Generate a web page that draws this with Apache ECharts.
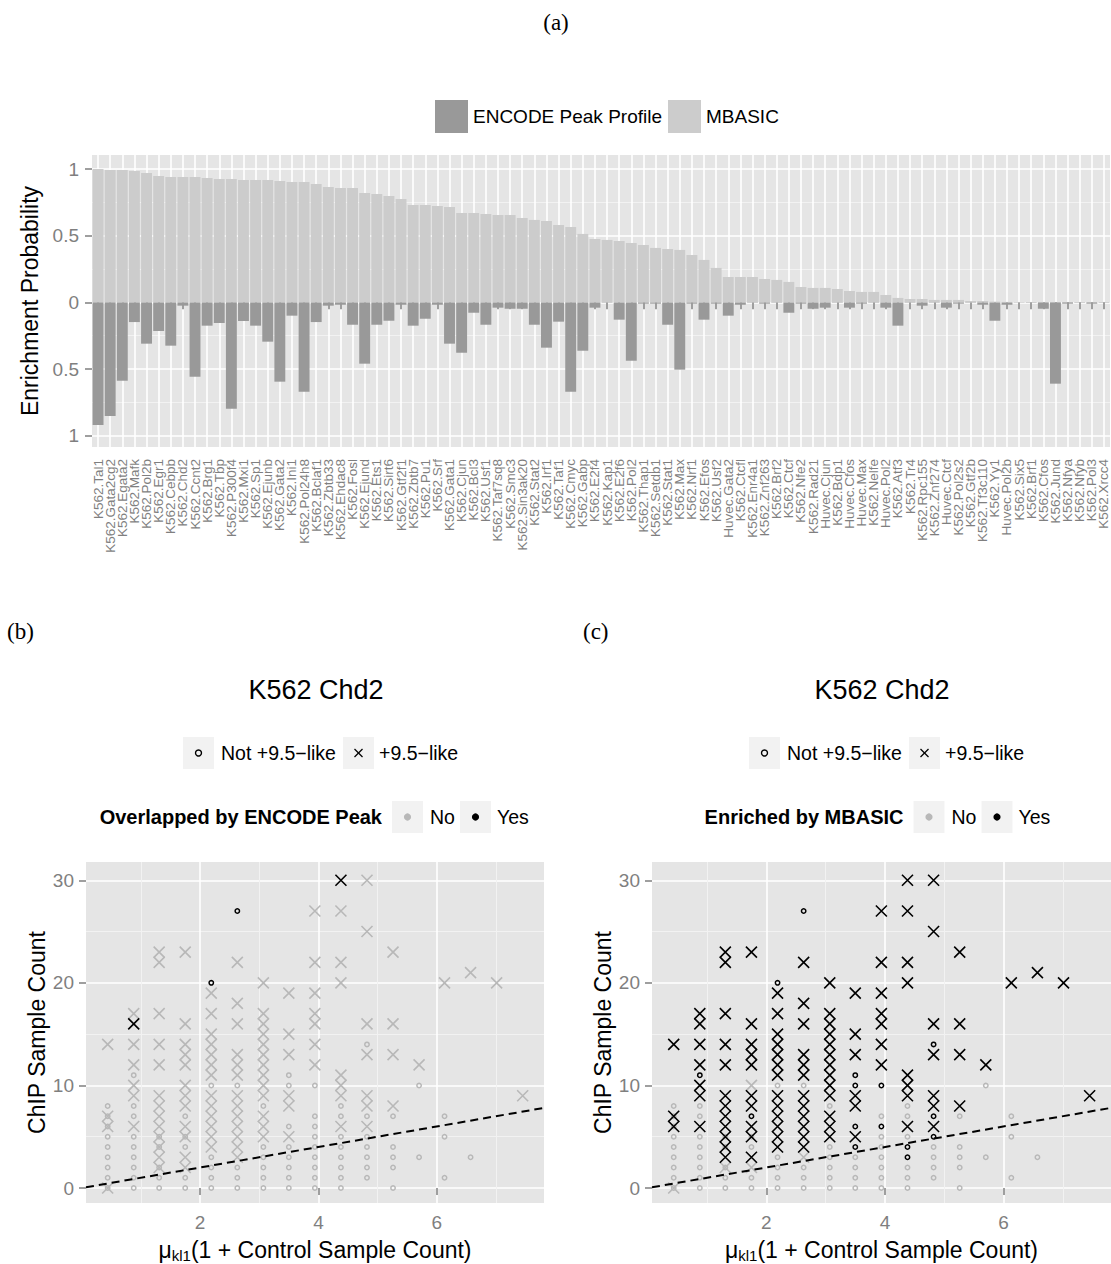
<!DOCTYPE html>
<html><head><meta charset="utf-8">
<script src="https://cdn.jsdelivr.net/npm/echarts@6/dist/echarts.min.js"></script>
<style>html,body{margin:0;padding:0;background:#fff}#main{width:1111px;height:1264px}</style>
</head><body><div id="main"></div>
<script>
// ---------------- Panel (a) data ----------------
const categories = ['K562.Tal1','K562.Gata2cg2','K562.Egata2','K562.Mafk','K562.Pol2b','K562.Egr1','K562.Cebpb','K562.Chd2','K562.Ccnt2','K562.Brg1','K562.Tbp','K562.P300f4','K562.Mxi1','K562.Sp1','K562.Ejunb','K562.Gata2','K562.Ini1','K562.Pol24h8','K562.Bclaf1','K562.Zbtb33','K562.Ehdac8','K562.Fosl','K562.Ejund','K562.Ets1','K562.Sirt6','K562.Gtf2f1','K562.Zbtb7','K562.Pu1','K562.Srf','K562.Gata1','K562.Cjun','K562.Bcl3','K562.Usf1','K562.Taf7sq8','K562.Smc3','K562.Sin3ak20','K562.Stat2','K562.Irf1','K562.Taf1','K562.Cmyc','K562.Gabp','K562.E2f4','K562.Kap1','K562.E2f6','K562.Pol2','K562.Thap1','K562.Setdb1','K562.Stat1','K562.Max','K562.Nrf1','K562.Efos','K562.Usf2','Huvec.Gata2','K562.Ctcfl','K562.Enr4a1','K562.Znf263','K562.Brf2','K562.Ctcf','K562.Nfe2','K562.Rad21','Huvec.Cjun','K562.Bdp1','Huvec.Cfos','Huvec.Max','K562.Nelfe','Huvec.Pol2','K562.Atf3','K562.Tr4','K562.Rpc155','K562.Znf274','Huvec.Ctcf','K562.Pol2s2','K562.Gtf2b','K562.Tf3c110','K562.Yy1','Huvec.Pol2b','K562.Six5','K562.Brf1','K562.Cfos','K562.Jund','K562.Nfya','K562.Nfyb','K562.Pol3','K562.Xrcc4'];
const mbasicProb = [1.0,0.993,0.993,0.985,0.97,0.948,0.94,0.94,0.94,0.933,0.925,0.925,0.918,0.918,0.918,0.91,0.903,0.903,0.888,0.865,0.858,0.858,0.82,0.813,0.798,0.775,0.73,0.73,0.723,0.715,0.67,0.67,0.663,0.655,0.655,0.633,0.618,0.61,0.58,0.565,0.513,0.475,0.468,0.46,0.445,0.43,0.408,0.4,0.393,0.355,0.318,0.258,0.19,0.19,0.19,0.175,0.168,0.153,0.115,0.108,0.108,0.1,0.085,0.078,0.078,0.055,0.033,0.025,0.025,0.018,0.018,0.018,0.01,0.01,0.005,0.003,0.002,0.001,0.001,0,0,0,0,0];
const encodeProb = [0.92,0.853,0.588,0.148,0.31,0.215,0.325,0.025,0.558,0.175,0.155,0.798,0.14,0.175,0.295,0.595,0.1,0.67,0.148,0.025,0.018,0.168,0.46,0.168,0.138,0.018,0.175,0.123,0.018,0.31,0.378,0.078,0.168,0.04,0.048,0.048,0.168,0.34,0.145,0.67,0.363,0.04,0.003,0.13,0.438,0.01,0.01,0.168,0.505,0.01,0.13,0.01,0.1,0.018,0.003,0.01,0.003,0.078,0.01,0.048,0.04,0.003,0.04,0.01,0.003,0.04,0.175,0.003,0.025,0.003,0.04,0.01,0.003,0.018,0.138,0.018,0.002,0.003,0.048,0.61,0.01,0.003,0.01,0.003];
const aTickValues = [-1,-0.5,0,0.5,1];
const aTickLabels = ['1','0.5','0','0.5','1'];
const aMinorValues = [-0.75,-0.25,0.25,0.75];

// ---------------- Panels (b),(c) data ----------------
const colX = [0.44,0.88,1.31,1.75,2.19,2.63,3.07,3.50,3.94,4.38,4.82,5.26,5.70,6.13,6.57,7.01,7.45];
const crossY = [
  [0,6,7,14],
  [6,9,10,12,14,16,17],
  [2,3,4,5,6,7,8,9,12,14,17,22,23],
  [2,3,5,6,8,9,10,12,13,14,16,23],
  [4,5,6,7,8,9,11,12,13,14,15,17,19],
  [3,4,5,6,7,8,9,11,12,13,16,18,22],
  [5,6,7,9,10,11,12,13,14,15,16,17,20],
  [5,8,9,13,15,19],
  [12,14,16,17,19,22,27],
  [6,9,10,11,20,22,27,30],
  [6,8,9,13,16,25,30],
  [8,13,16,23],
  [12],[20],[21],[20],[9]
];
const circleY = [
  [0,1,2,3,4,5,6,7,8],
  [0,1,2,3,4,5,7,8,11],
  [0,1,2,4,5],
  [0,1,4,5,7],
  [0,1,2,3,10,20],
  [0,1,2,10,27],
  [0,1,2,3,4,8],
  [0,1,2,3,4,6,10,11],
  [0,1,2,3,4,5,6,7,10],
  [0,1,2,3,4,5,7,8],
  [1,2,3,4,5,7,14],
  [0,2,3,4,7],
  [3,10],[1,5,7],[3],[],[]
];
// [column (1-based), y]
const encodeYesCross = [[2,16],[10,30]];
const encodeYesCircle = [[5,20],[6,27]];
const mbasicNoCross = [[1,0],[3,2],[4,2],[4,10],[6,3]];
const mbasicYesCircle = [[2,11],[4,7],[5,20],[6,27],[8,4],[8,6],[8,10],[8,11],[9,6],[9,10],[10,3],[10,4],[11,5],[11,7],[11,14]];
const scTickX = [2,4,6], scMinorX = [1,3,5,7];
const scTickY = [0,10,20,30], scMinorY = [5,15,25];
const diagLine = {slope: 1, intercept: 0};

// ---------------- build ----------------
const FONT = '"Liberation Sans", Arial, Helvetica, sans-serif';
const SERIF = '"Liberation Serif", "DejaVu Serif", serif';
const TXT_GRAY = '#7F7F7F';
const PT_GRAY = '#B8B8B8';
const CROSS = 'path://M0,0L10,10M10,0L0,10';

function has(list, c, y) { return list.some(p => p[0] === c && p[1] === y); }
const points = [];
colX.forEach((x, i) => {
  crossY[i].forEach(y => points.push({x, y, shape: 'x', enc: has(encodeYesCross, i+1, y), mb: !has(mbasicNoCross, i+1, y)}));
  circleY[i].forEach(y => points.push({x, y, shape: 'o', enc: has(encodeYesCircle, i+1, y), mb: has(mbasicYesCircle, i+1, y)}));
});

const aRange = {min: -1.085, max: 1.105};
const scX = {min: 0.074, max: 7.81};
const scY = {min: -1.46, max: 31.78};

function mainValueAxis(grid, range, ticks, opts) {
  return Object.assign({
    type: 'value', gridIndex: grid, min: range.min, max: range.max,
    axisLine: {show: false},
    axisTick: {show: true, customValues: ticks, length: 7, lineStyle: {color: TXT_GRAY, width: 1.5}},
    axisLabel: {customValues: ticks, color: TXT_GRAY, fontSize: 19, fontFamily: FONT, margin: 12},
    splitLine: {show: true, lineStyle: {color: '#FFFFFF', width: 1.6}},
    nameTextStyle: {color: '#000', fontSize: 23, fontFamily: FONT}
  }, opts || {});
}
function minorValueAxis(grid, range, ticks, position) {
  return {
    type: 'value', gridIndex: grid, min: range.min, max: range.max, position: position,
    axisLine: {show: false}, axisLabel: {show: false},
    axisTick: {show: false, customValues: ticks},
    splitLine: {show: true, lineStyle: {color: '#F2F2F2', width: 1}}
  };
}

const xTitleStyle = {color: '#000', fontSize: 23, fontFamily: FONT,
  rich: {m: {fontSize: 23, fontFamily: FONT}, s: {fontSize: 15, fontFamily: FONT, padding: [12, 0, 0, 0]}}};
const xAxes = [
  {
    type: 'category', gridIndex: 0, data: categories, boundaryGap: true,
    axisLine: {show: false},
    axisTick: {show: true, alignWithLabel: true, length: 7, lineStyle: {color: TXT_GRAY, width: 1.5}},
    axisLabel: {interval: 0, rotate: 90, fontSize: 13.5, color: TXT_GRAY, fontFamily: FONT, margin: 12},
    splitLine: {show: true, alignWithLabel: true, lineStyle: {color: '#FFFFFF', width: 1.6}}
  },
  mainValueAxis(1, scX, scTickX, {name: '{m|μ}{s|kl1}(1 + Control Sample Count)', nameLocation: 'middle', nameGap: 33,
    nameTextStyle: xTitleStyle,
    axisLabel: {customValues: scTickX, color: TXT_GRAY, fontSize: 19, fontFamily: FONT, margin: 10}}),
  minorValueAxis(1, scX, scMinorX, 'top'),
  mainValueAxis(2, scX, scTickX, {name: '{m|μ}{s|kl1}(1 + Control Sample Count)', nameLocation: 'middle', nameGap: 33,
    nameTextStyle: xTitleStyle,
    axisLabel: {customValues: scTickX, color: TXT_GRAY, fontSize: 19, fontFamily: FONT, margin: 10}}),
  minorValueAxis(2, scX, scMinorX, 'top')
];
const yAxes = [
  mainValueAxis(0, aRange, aTickValues, {
    name: 'Enrichment Probability', nameLocation: 'middle', nameGap: 44, nameRotate: 90,
    axisLabel: {customValues: aTickValues, color: TXT_GRAY, fontSize: 19, fontFamily: FONT, margin: 13,
      formatter: v => aTickLabels[aTickValues.findIndex(t => Math.abs(t - v) < 1e-9)] ?? ''}
  }),
  minorValueAxis(0, aRange, aMinorValues, 'right'),
  mainValueAxis(1, scY, scTickY, {name: 'ChIP Sample Count', nameLocation: 'middle', nameGap: 38, nameRotate: 90}),
  minorValueAxis(1, scY, scMinorY, 'right'),
  mainValueAxis(2, scY, scTickY, {name: 'ChIP Sample Count', nameLocation: 'middle', nameGap: 38, nameRotate: 90}),
  minorValueAxis(2, scY, scMinorY, 'right')
];

function scatterSeries(xi, yi, key) {
  const groups = [['o', false], ['x', false], ['o', true], ['x', true]];
  const out = groups.map(([shape, black]) => ({
    type: 'scatter', xAxisIndex: xi, yAxisIndex: yi, silent: true,
    symbol: shape === 'o' ? 'circle' : CROSS,
    symbolSize: shape === 'o' ? 4.4 : 11,
    itemStyle: {color: 'transparent', borderColor: black ? '#000000' : PT_GRAY, borderWidth: shape === 'o' ? 1.5 : 1.6, opacity: 1},
    data: points.filter(p => p.shape === shape && p[key] === black).map(p => [p.x, p.y])
  }));
  out.push({
    type: 'line', xAxisIndex: xi, yAxisIndex: yi, silent: true, symbol: 'none',
    lineStyle: {color: '#000', width: 2, type: [8, 5]},
    data: [scX.min, scX.max].map(x => [x, diagLine.slope * x + diagLine.intercept])
  });
  return out;
}

const series = [
  {name: 'ENCODE Peak Profile', type: 'bar', xAxisIndex: 0, yAxisIndex: 0, barWidth: '90%', barGap: '-100%',
   itemStyle: {color: '#999999'}, data: encodeProb.map(v => -v)},
  {name: 'MBASIC', type: 'bar', xAxisIndex: 0, yAxisIndex: 0, barWidth: '90%', barGap: '-100%',
   itemStyle: {color: '#CCCCCC'}, data: mbasicProb}
].concat(scatterSeries(1, 2, 'enc'), scatterSeries(3, 4, 'mb'));

// ---------------- decorations (labels, titles, scatter legends) ----------------
function txt(text, x, y, size, opts) {
  return Object.assign({type: 'text', silent: true, style: Object.assign({
    text, x, y, fill: '#000', fontSize: size, fontFamily: FONT,
    align: 'left', textAlign: 'left', verticalAlign: 'middle', textVerticalAlign: 'middle'
  }, opts || {})});
}
function keyBox(x, y) { return {type: 'rect', silent: true, shape: {x, y, width: 31, height: 32}, style: {fill: '#F2F2F2'}}; }
function keyCircle(cx, cy) { return {type: 'circle', silent: true, shape: {cx, cy, r: 3}, style: {fill: 'none', stroke: '#000', lineWidth: 1.4}}; }
function keyCross(cx, cy) {
  return [
    {type: 'line', silent: true, shape: {x1: cx - 4, y1: cy - 4, x2: cx + 4, y2: cy + 4}, style: {stroke: '#000', lineWidth: 1.2}},
    {type: 'line', silent: true, shape: {x1: cx + 4, y1: cy - 4, x2: cx - 4, y2: cy + 4}, style: {stroke: '#000', lineWidth: 1.2}}
  ];
}
function keyDot(cx, cy, fill) { return {type: 'circle', silent: true, shape: {cx, cy, r: 3.6}, style: {fill}}; }

function scatterDecor(dx, colorTitle, rightEnd) {
  const els = [];
  els.push(txt('K562 Chd2', 316 + dx, 690, 27, {align: 'center', textAlign: 'center'}));
  els.push(keyBox(183 + dx, 737), keyCircle(198.5 + dx, 753), txt('Not +9.5\u2212like', 221 + dx, 753, 19.5));
  els.push(keyBox(343 + dx, 737), ...keyCross(358.5 + dx, 753), txt('+9.5\u2212like', 379 + dx, 753, 19.5));
  const r = rightEnd;
  els.push(txt(colorTitle, r - 146, 817, 20, {fontWeight: 'bold', align: 'right', textAlign: 'right'}));
  els.push(keyBox(r - 136, 801), keyDot(r - 120.5, 817, PT_GRAY), txt('No', r - 98, 817, 19.5));
  els.push(keyBox(r - 68, 801), keyDot(r - 52.5, 817, '#000'), txt('Yes', r - 31, 817, 19.5));
  return els;
}

const graphic = [
  txt('(a)', 556, 22, 23, {fontFamily: SERIF, align: 'center', textAlign: 'center'}),
  txt('(b)', 7, 631, 23, {fontFamily: SERIF}),
  txt('(c)', 583, 631, 23, {fontFamily: SERIF})
].concat(scatterDecor(0, 'Overlapped by ENCODE Peak', 528), scatterDecor(566, 'Enriched by MBASIC', 1049.5));

const chart = echarts.init(document.getElementById('main'), null, {renderer: 'svg', width: 1111, height: 1264});
chart.setOption({
  animation: false,
  backgroundColor: '#FFFFFF',
  textStyle: {fontFamily: FONT},
  legend: [{
    data: ['ENCODE Peak Profile', 'MBASIC'], left: 430, top: 95, icon: 'rect',
    itemWidth: 33, itemHeight: 33, itemGap: 6, selectedMode: false,
    textStyle: {fontSize: 19, color: '#000', fontFamily: FONT}
  }],
  grid: [
    {left: 92, top: 155, width: 1018, height: 292, show: true, backgroundColor: '#E5E5E5', borderWidth: 0, containLabel: false},
    {left: 86, top: 862, width: 458, height: 341, show: true, backgroundColor: '#E5E5E5', borderWidth: 0, containLabel: false},
    {left: 652, top: 862, width: 459, height: 341, show: true, backgroundColor: '#E5E5E5', borderWidth: 0, containLabel: false}
  ],
  xAxis: xAxes,
  yAxis: yAxes,
  series: series,
  graphic: graphic
});
</script>
</body></html>
